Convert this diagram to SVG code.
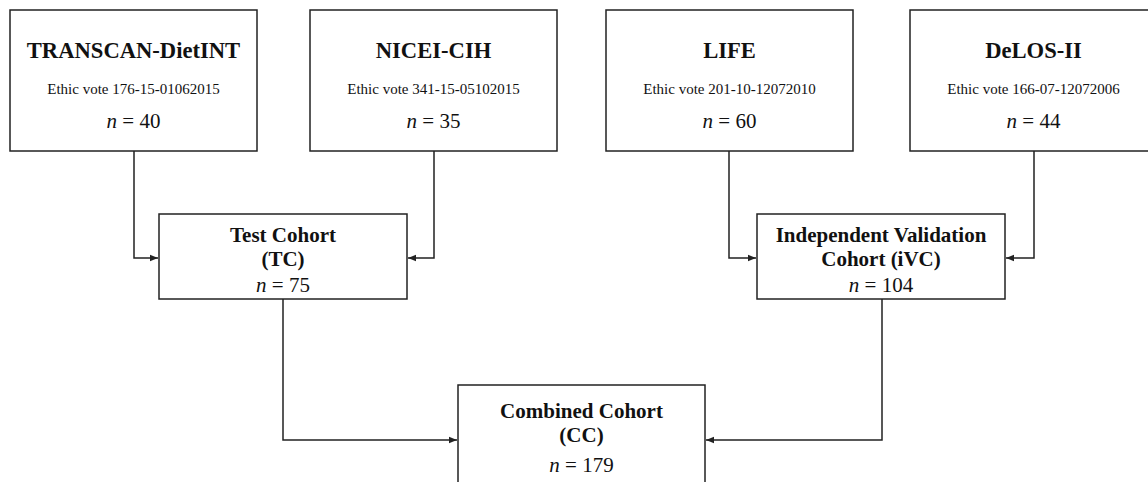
<svg xmlns="http://www.w3.org/2000/svg" width="1148" height="482" viewBox="0 0 1148 482">
<style>
.box{fill:#fff;stroke:#222;stroke-width:1.5}
.t{font-family:"Liberation Serif","Times New Roman",serif;fill:#111;text-anchor:middle}
.title{font-size:22.6px;font-weight:bold}
.vote{font-size:15px}
.n{font-size:21px}
.c{font-size:21px;font-weight:bold}
.conn{fill:none;stroke:#222;stroke-width:1.5}
</style>
<defs>
<marker id="ah" markerWidth="8" markerHeight="8" refX="8" refY="4" orient="auto" markerUnits="userSpaceOnUse">
<path d="M0,0.8 L8,4 L0,7.2 Z" fill="#222"/>
</marker>
</defs>
<rect width="1148" height="482" fill="#fff"/>
<g id="connectors">
<path class="conn" d="M134,151 V258 H158" marker-end="url(#ah)"/>
<path class="conn" d="M434,151 V258 H408" marker-end="url(#ah)"/>
<path class="conn" d="M729,151 V258 H756" marker-end="url(#ah)"/>
<path class="conn" d="M1034,151 V258 H1006" marker-end="url(#ah)"/>
<path class="conn" d="M283,299 V440 H457" marker-end="url(#ah)"/>
<path class="conn" d="M882,299 V440 H706" marker-end="url(#ah)"/>
</g>
<g id="transcan">
<rect class="box" x="10" y="10" width="247" height="141"/>
<text class="t title" x="133.5" y="58">TRANSCAN-DietINT</text>
<text class="t vote" x="133.5" y="94">Ethic vote 176-15-01062015</text>
<text class="t n" x="133.5" y="128"><tspan font-style="italic">n</tspan> = 40</text>
</g>
<g id="nicei">
<rect class="box" x="310" y="10" width="247" height="141"/>
<text class="t title" x="433.5" y="58">NICEI-CIH</text>
<text class="t vote" x="433.5" y="94">Ethic vote 341-15-05102015</text>
<text class="t n" x="433.5" y="128"><tspan font-style="italic">n</tspan> = 35</text>
</g>
<g id="life">
<rect class="box" x="606" y="10" width="247" height="141"/>
<text class="t title" x="729.5" y="58">LIFE</text>
<text class="t vote" x="729.5" y="94">Ethic vote 201-10-12072010</text>
<text class="t n" x="729.5" y="128"><tspan font-style="italic">n</tspan> = 60</text>
</g>
<g id="delos">
<rect class="box" x="910" y="10" width="247" height="141"/>
<text class="t title" x="1033.5" y="58">DeLOS-II</text>
<text class="t vote" x="1033.5" y="94">Ethic vote 166-07-12072006</text>
<text class="t n" x="1033.5" y="128"><tspan font-style="italic">n</tspan> = 44</text>
</g>
<g id="tc">
<rect class="box" x="159" y="214" width="248" height="85"/>
<text class="t c" x="283" y="242">Test Cohort</text>
<text class="t c" x="283" y="266">(TC)</text>
<text class="t n" x="283" y="292"><tspan font-style="italic">n</tspan> = 75</text>
</g>
<g id="ivc">
<rect class="box" x="757" y="214" width="248" height="85"/>
<text class="t c" x="881" y="242">Independent Validation</text>
<text class="t c" x="881" y="266">Cohort (iVC)</text>
<text class="t n" x="881" y="292"><tspan font-style="italic">n</tspan> = 104</text>
</g>
<g id="cc">
<rect class="box" x="458" y="385" width="247" height="110"/>
<text class="t c" x="581.5" y="418">Combined Cohort</text>
<text class="t c" x="581.5" y="442">(CC)</text>
<text class="t n" x="581.5" y="472"><tspan font-style="italic">n</tspan> = 179</text>
</g>
</svg>
